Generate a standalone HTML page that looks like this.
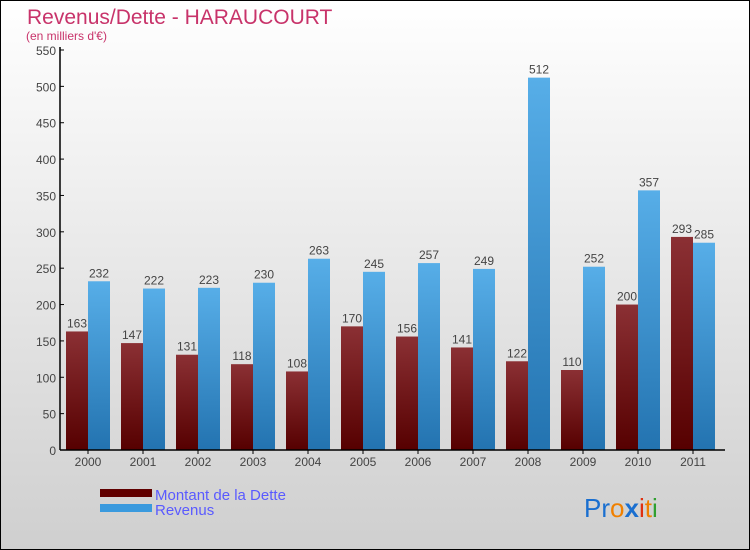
<!DOCTYPE html>
<html><head><meta charset="utf-8"><style>
body{margin:0;}
#c{width:750px;height:550px;position:relative;box-sizing:border-box;border:1px solid #000;background:linear-gradient(#ffffff,#cfcfcf);font-family:"Liberation Sans",sans-serif;overflow:hidden}
</style></head><body>
<div id="c">
<svg id="s" width="748" height="548" xmlns="http://www.w3.org/2000/svg">
<defs>
<linearGradient id="gd" x1="0" y1="0" x2="0" y2="1"><stop offset="0" stop-color="#8b3034"/><stop offset="1" stop-color="#560000"/></linearGradient>
<linearGradient id="gr" x1="0" y1="0" x2="0" y2="1"><stop offset="0" stop-color="#57aee8"/><stop offset="1" stop-color="#2373b0"/></linearGradient>
</defs>
<text x="26" y="23" font-size="21" fill="#c8336a">Revenus/Dette - HARAUCOURT</text>
<text x="25" y="39" font-size="12" fill="#c8336a">(en milliers d'€)</text>
<g id="g"></g>
<rect x="99" y="488" width="52" height="8" fill="#600000"/>
<rect x="99" y="503" width="52" height="8" fill="#3a9ade"/>
<text x="154" y="499" font-size="15" fill="#5a5aff">Montant de la Dette</text>
<text x="154" y="514" font-size="15" fill="#5a5aff">Revenus</text>
<text x="583" y="516" font-size="26"><tspan fill="#1a6fd0">Pr</tspan><tspan fill="#f08000">o</tspan><tspan fill="#1a6fd0" font-weight="bold">x</tspan><tspan fill="#e03010">i</tspan><tspan fill="#f08000">t</tspan><tspan fill="#30a030">i</tspan></text>
</svg>
<script>
const categories=["2000","2001","2002","2003","2004","2005","2006","2007","2008","2009","2010","2011"];
const debtValues=[163,147,131,118,108,170,156,141,122,110,200,293];
const revenueValues=[232,222,223,230,263,245,257,249,512,252,357,285];
const yTicks=[0,50,100,150,200,250,300,350,400,450,500,550];
const NS="http://www.w3.org/2000/svg";
const g=document.getElementById('g');
const y0=449,yTop=49,ymax=550,x0=59,step=55;
function yS(v){return y0-(v/ymax)*(y0-yTop);}
function xS(i){return x0+step*i;}
function mk(t,a){const e=document.createElementNS(NS,t);for(const k in a)e.setAttribute(k,a[k]);g.appendChild(e);return e;}
yTicks.forEach(v=>{
 const t=mk('text',{x:x0-4,y:yS(v)+5,'font-size':12,fill:'#444','text-anchor':'end'});t.textContent=v;
 
 
 const l=mk('line',{x1:x0,x2:x0+4,y1:yS(v),y2:yS(v),stroke:'#000'});
 
 
});
categories.forEach((c,i)=>{
 const xs=xS(i);
 const d=debtValues[i],r=revenueValues[i];
 const b1=mk('rect',{x:xs+6,y:yS(d),width:22,height:y0-yS(d),fill:'url(#gd)'});
 
 
 const b2=mk('rect',{x:xs+28,y:yS(r),width:22,height:y0-yS(r),fill:'url(#gr)'});
 
 
 const t1=mk('text',{x:xs+17,y:yS(d)-4,'font-size':12,fill:'#444','text-anchor':'middle'});t1.textContent=d;
 
 
 const t2=mk('text',{x:xs+39,y:yS(r)-4,'font-size':12,fill:'#444','text-anchor':'middle'});t2.textContent=r;
 
 
 const tl=mk('text',{x:xs+28,y:y0+16,'font-size':12,fill:'#444','text-anchor':'middle'});tl.textContent=c;
 
 
 const tk=mk('line',{x1:xs+28,x2:xs+28,y1:y0,y2:y0+4,stroke:'#000'});
 
 
});
const ax=mk('line',{x1:x0,x2:x0,y1:yTop-3,y2:y0,stroke:'#000','stroke-width':1.5});


const axx=mk('line',{x1:x0,x2:x0+step*12+5,y1:y0,y2:y0,stroke:'#000','stroke-width':1.5});


</script>
</div>
</body></html>
